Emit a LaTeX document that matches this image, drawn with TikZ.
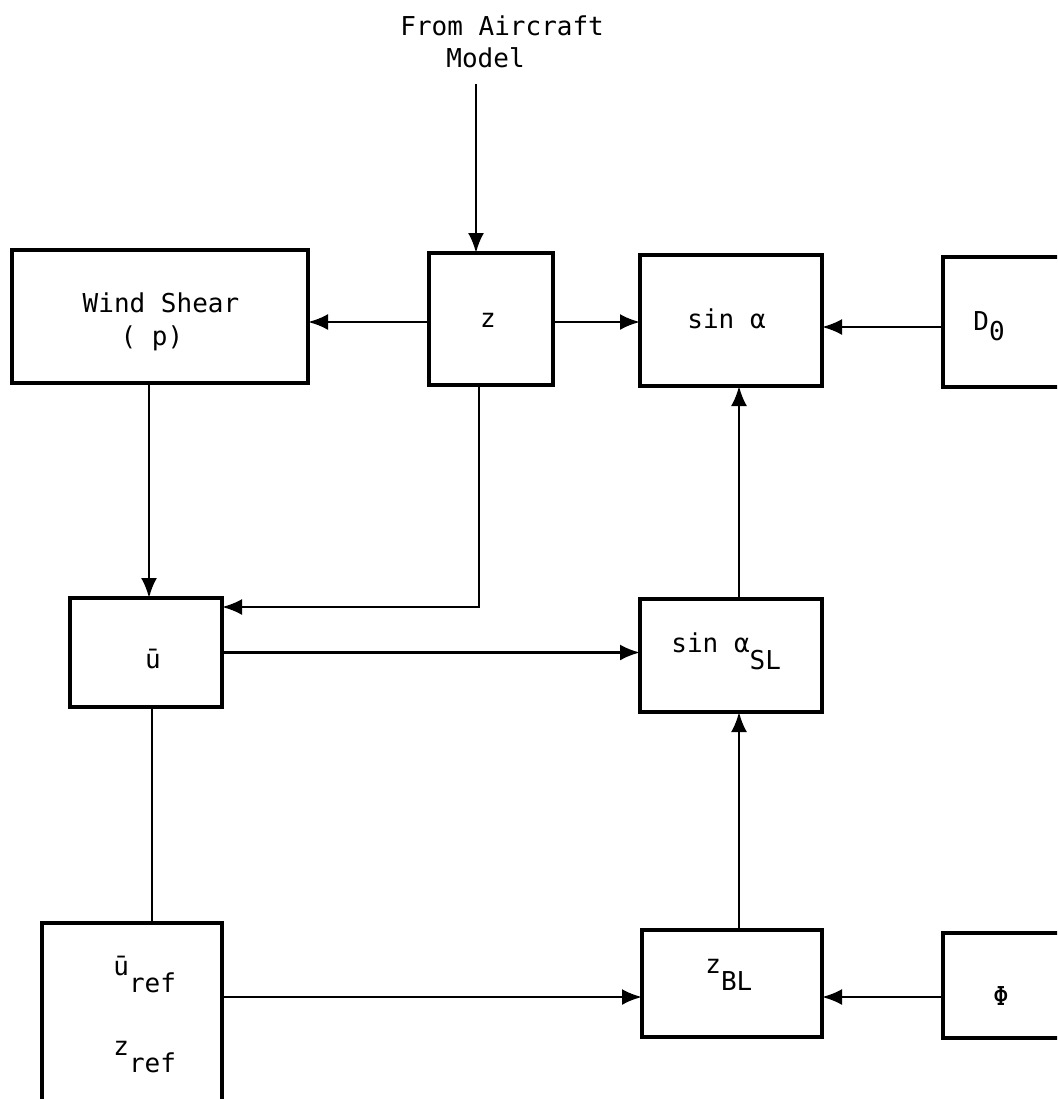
\documentclass[tikz,border=0pt]{standalone}
\usepackage{fontspec}
\setmainfont{DejaVu Sans Mono}
\usetikzlibrary{arrows.meta}
\newcommand{\lowr}[2][8.5pt]{\raisebox{-#1}{#2}}
\begin{document}
\begin{tikzpicture}[x=0.5pt,y=-0.5pt,
  box/.style={draw, line width=1.6pt, inner sep=0pt, outer sep=0pt},
  txt/.style={inner sep=0pt, font=\fontsize{13}{15}\selectfont},
  arr/.style={line width=1.4pt, -{Latex[length=10pt,width=8pt]}},
  ln/.style={line width=1.4pt}]
\useasboundingbox (0,0) rectangle (1057,1099);
\clip (0,0) rectangle (1057,1099);
% boxes
\node[box, minimum width=148pt, minimum height=66.5pt] (wind) at (160,316.5) {};
\node[box, minimum width=62pt, minimum height=66pt] (z) at (491,319) {};
\node[box, minimum width=91pt, minimum height=65.5pt] (sina) at (731,320.5) {};
\node[box, minimum width=78.5pt, minimum height=65pt] (d0) at (1021.5,322) {};
\node[box, minimum width=76pt, minimum height=54.5pt] (ubar) at (146,652.5) {};
\node[box, minimum width=91pt, minimum height=56.5pt] (sinsl) at (731,655.5) {};
\node[box, minimum width=90pt, minimum height=113.5pt] (uref) at (132,1036.5) {};
\node[box, minimum width=90pt, minimum height=53.5pt] (zbl) at (732,983.5) {};
\node[box, minimum width=78.5pt, minimum height=52.5pt] (phi) at (1021.5,985.5) {};
% texts
\node[txt, anchor=base west] (t1) at (400,35) {From Aircraft};
\node[txt, anchor=base west] (t2) at (446,67) {Model};
\node[txt, anchor=base] (tw1) at (161,312) {Wind Shear};
\node[txt, anchor=base] (tw2) at (152,345) {( p)};
\node[txt, anchor=base] (tz) at (488,327) {z};
\node[txt, anchor=base west] (tsa) at (687,328) {sin α};
\node[txt, anchor=base west] (td0) at (973,330) {D\lowr[5pt]{0}};
\node[txt, anchor=base] (tu) at (153,668) {ū};
\node[txt, anchor=base west] (tsl) at (671,652) {sin α\lowr{SL}};
\node[txt, anchor=base west] (tur) at (113,975) {ū\lowr{ref}};
\node[txt, anchor=base west] (tzr) at (113,1055) {z\lowr{ref}};
\node[txt, anchor=base west] (tzb) at (705,973) {z\lowr{BL}};
\node[txt, anchor=base] (tphi) at (1001,1005) {Φ};
% helper coordinates
\coordinate (src) at (476,84);
\coordinate (zdown) at (479,607);
\coordinate (colx) at (739,0);
\coordinate (row) at (0,997);
\coordinate (rowa) at (0,322);
\coordinate (rowb) at (0,327);
\coordinate (windx) at (149,0);
\coordinate (urefx) at (152,0);
% connectors
\draw[arr] (src) -- (src |- z.north);
\draw[arr] (rowa -| z.west) -- (rowa -| wind.east);
\draw[arr] (rowa -| z.east) -- (rowa -| sina.west);
\draw[arr] (rowb -| d0.west) -- (rowb -| sina.east);
\draw[arr] (windx |- wind.south) -- (windx |- ubar.north);
\draw[arr] (zdown |- z.south) -- (zdown) -- (zdown -| ubar.east);
\draw[arr] (ubar.east) -- (ubar.east -| sinsl.west);
\draw[arr] (colx |- sinsl.north) -- (colx |- sina.south);
\draw[arr] (colx |- zbl.north) -- (colx |- sinsl.south);
\draw[ln] (urefx |- ubar.south) -- (urefx |- uref.north);
\draw[arr] (row -| uref.east) -- (row -| zbl.west);
\draw[arr] (row -| phi.west) -- (row -| zbl.east);
\end{tikzpicture}
\end{document}
